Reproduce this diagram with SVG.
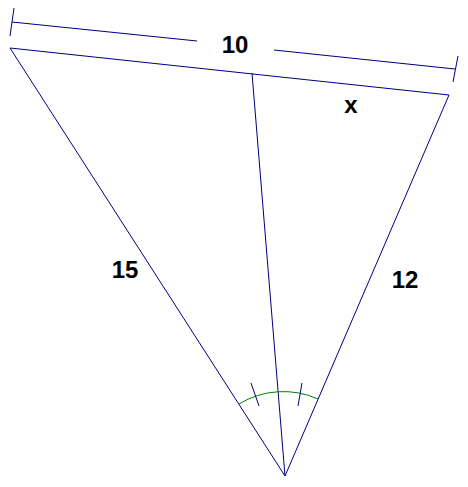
<svg xmlns="http://www.w3.org/2000/svg" width="468" height="487" viewBox="0 0 468 487">
<style>
.ln{stroke:#000080;stroke-width:1;fill:none}
.arc{stroke:#008000;stroke-width:1;fill:none}
.lbl{font-family:"Liberation Sans",Arial,sans-serif;font-weight:bold;font-size:24px;fill:#000;text-anchor:middle}
</style>
<rect width="468" height="487" fill="#fff"/>
<g id="connectors">
<line class="ln" x1="10" y1="48" x2="449" y2="95"/>
<line class="ln" x1="10" y1="48" x2="285" y2="476"/>
<line class="ln" x1="449" y1="95" x2="285" y2="476"/>
<line class="ln" x1="252" y1="73" x2="285" y2="476"/>
<line class="ln" x1="12" y1="22" x2="197" y2="41"/>
<line class="ln" x1="274" y1="50" x2="455" y2="69"/>
<line class="ln" x1="14" y1="8" x2="10" y2="36"/>
<line class="ln" x1="458" y1="56" x2="453" y2="82"/>
<path class="arc" d="M239 404 A85 85 0 0 1 318 399"/>
<line class="ln" x1="251" y1="383" x2="259" y2="406"/>
<line class="ln" x1="302" y1="383" x2="298" y2="406"/>
</g>
<g id="label-10"><text class="lbl" x="235" y="53">10</text></g>
<g id="label-x"><text class="lbl" x="351" y="113">x</text></g>
<g id="label-15"><text class="lbl" x="125" y="278">15</text></g>
<g id="label-12"><text class="lbl" x="405" y="288">12</text></g>
</svg>
